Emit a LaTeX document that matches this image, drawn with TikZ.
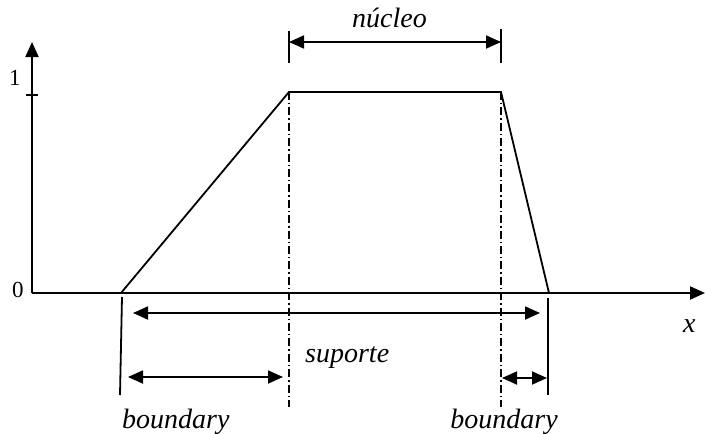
\documentclass[tikz,border=0pt]{standalone}
\usepackage{fontspec}
\setmainfont{Liberation Serif}
\usetikzlibrary{arrows.meta, positioning}

\begin{document}
\begin{tikzpicture}[
  x=1pt, y=-1pt,
  >={Triangle[length=15pt, width=13pt]},
  axis/.style={line width=2pt},
  curve/.style={line width=1.8pt},
  guide/.style={line width=1.4pt, dash pattern=on 8pt off 3pt on 1.4pt off 3pt},
  dim/.style={line width=1.8pt, <->},
  lbl/.style={font=\fontsize{28}{32}\selectfont\itshape, inner sep=0pt},
  num/.style={font=\fontsize{23}{27}\selectfont, inner sep=0pt}
]
  \useasboundingbox (0,0) rectangle (705,434);

  % axes
  \coordinate (O) at (32,293);
  \coordinate (ytop) at (32,42);
  \coordinate (xend) at (705,293);
  \draw[axis, ->] (O) -- (ytop);
  \draw[axis, ->] (O) -- (xend);
  \coordinate (t1) at (26,95);
  \coordinate (t2) at (38,95);
  \draw[axis] (t1) -- (t2);
  \node[num, anchor=base west] (one) at (9,85) {1};
  \node[num, anchor=base west] (zero) at (12,297) {0};
  \node[lbl, anchor=base west] (xlab) at (683,332) {x};

  % trapezoid
  \coordinate (A) at (121,293);
  \coordinate (B) at (289,92);
  \coordinate (C) at (501,92);
  \coordinate (D) at (549,293);
  \draw[curve] (A) -- (B) -- (C) -- (D);

  % guides
  \coordinate (Bd) at (289,407);
  \coordinate (Cd) at (501,407);
  \draw[guide] (B) -- (Bd);
  \draw[guide] (C) -- (Cd);

  % nucleo
  \coordinate (n1t) at (289,31);
  \coordinate (n1b) at (289,63);
  \coordinate (n2t) at (501,29);
  \coordinate (n2b) at (501,63);
  \draw[curve] (n1t) -- (n1b);
  \draw[curve] (n2t) -- (n2b);
  \coordinate (n1) at (289,42);
  \coordinate (n2) at (501,42);
  \draw[dim] (n1) -- (n2);
  \node[lbl, anchor=base west] (nucleo) at (352,27) {núcleo};

  % suporte
  \coordinate (s1t) at (122,297);
  \coordinate (s1b) at (120,395);
  \coordinate (s2t) at (548,298);
  \coordinate (s2b) at (548,395);
  \draw[curve] (s1t) -- (s1b);
  \draw[curve] (s2t) -- (s2b);
  \coordinate (s1) at (133,313);
  \coordinate (s2) at (540,313);
  \draw[dim] (s1) -- (s2);
  \node[lbl, anchor=base west] (suporte) at (305,362) {suporte};

  % boundaries
  \coordinate (b1) at (128,377);
  \coordinate (b2) at (283,377);
  \coordinate (b3) at (502,378);
  \coordinate (b4) at (547,378);
  \draw[dim] (b1) -- (b2);
  \draw[dim] (b3) -- (b4);
  \node[lbl, anchor=base west] (bleft) at (122,428) {boundary};
  \node[lbl, anchor=base east] (bright) at (558,428) {boundary};
\end{tikzpicture}
\end{document}
